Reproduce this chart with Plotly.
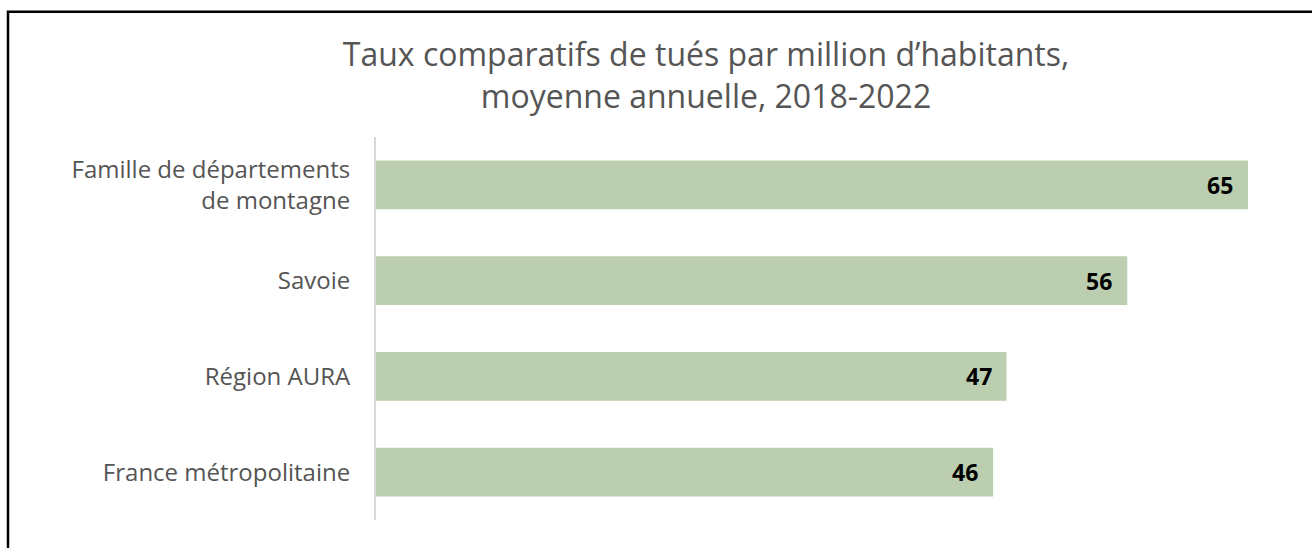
import plotly.graph_objects as go

categories = ["Famille de départements<br>de montagne", "Savoie", "Région AURA", "France métropolitaine"]
values = [65, 56, 47, 46]
title_text = "Taux comparatifs de tués par million d’habitants,<br>moyenne annuelle, 2018-2022"

W, H = 1312, 548
FONT = "Open Sans"
bar_color = "#BBCEB0"

fig = go.Figure()
fig.add_trace(go.Bar(
    x=values, y=categories, orientation="h",
    marker=dict(color=bar_color, line=dict(width=0)),
    hoverinfo="skip",
))

for c, v in zip(categories, values):
    fig.add_annotation(
        x=v, y=c, xref="x", yref="y", text=f"<b>{v}</b>",
        showarrow=False, xanchor="right", xshift=-13,
        font=dict(family=FONT, size=23, color="#000000"),
    )

# border (left and top visible)
PW = 1248 - 376
PH = 520 - 136.5
fig.add_shape(type="rect", xref="paper", yref="paper",
              x0=(8 - 376) / PW, x1=1.2,
              y0=-0.2, y1=1 + (136.5 - 11) / PH,
              line=dict(color="black", width=2.5), layer="above")

fig.update_layout(
    width=W, height=H,
    margin=dict(l=376, r=W - 1248, t=136.5, b=H - 520, pad=0),
    paper_bgcolor="white", plot_bgcolor="white",
    bargap=0.49,
    showlegend=False,
    title=dict(text=title_text, x=706 / W, xanchor="center", y=1 - 66 / H, yanchor="middle",
               font=dict(family=FONT, size=32, color="#555555")),
    xaxis=dict(range=[0, 65], visible=False, fixedrange=True),
    yaxis=dict(autorange="reversed", showline=True, linecolor="#D9D9D9", linewidth=2,
               showgrid=False, ticks="", ticklabelstandoff=19,
               tickfont=dict(family=FONT, size=24, color="#555555"), fixedrange=True),
    font=dict(family=FONT),
)

fig.write_html("out.html", config={"displayModeBar": False},
               post_script="document.body.style.margin='0';document.body.style.overflow='hidden';")
